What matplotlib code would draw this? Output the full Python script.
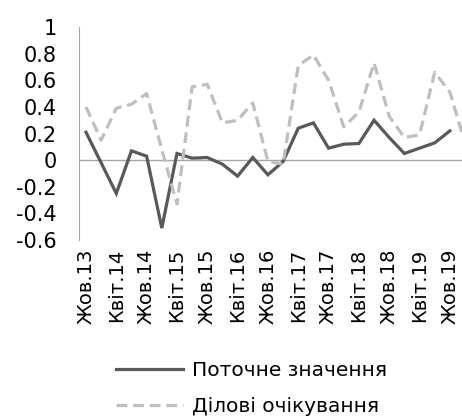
import numpy as np
import matplotlib
matplotlib.use("Agg")
import matplotlib.pyplot as plt

plt.rcParams["font.family"] = ["DejaVu Sans"]

# quarterly data, Oct 2013 .. Oct 2019 (+ one more quarter for expectations)
current = [0.21, -0.02, -0.25, 0.07, 0.03, -0.51, 0.05, 0.015, 0.02, -0.03,
           -0.12, 0.02, -0.11, -0.01, 0.24, 0.28, 0.09, 0.12, 0.125, 0.30,
           0.17, 0.05, 0.09, 0.13, 0.22]
expect = [0.40, 0.15, 0.39, 0.42, 0.50, 0.08, -0.33, 0.55, 0.57, 0.28,
          0.30, 0.43, -0.01, -0.03, 0.71, 0.79, 0.60, 0.25, 0.36, 0.73,
          0.33, 0.17, 0.19, 0.66, 0.51, 0.13]
tick_labels = ["Жов.13", "Квіт.14", "Жов.14", "Квіт.15", "Жов.15", "Квіт.16",
               "Жов.16", "Квіт.17", "Жов.17", "Квіт.18", "Жов.18", "Квіт.19",
               "Жов.19"]
yticks = [-0.6, -0.4, -0.2, 0, 0.2, 0.4, 0.6, 0.8, 1]

fig = plt.figure(figsize=(4.62, 4.19), dpi=100)
ax = fig.add_axes([0.171, 0.427, 0.829, 0.5086])

ax.plot(np.arange(len(current)), current, color="#595959", lw=2.3,
        solid_joinstyle="miter", label="Поточне значення")
ax.plot(np.arange(len(expect)), expect, color="#bfbfbf", lw=2.3,
        dashes=(3.4, 1.8), label="Ділові очікування")
ax.axhline(0, color="#a6a6a6", lw=1.0, zorder=0)

ax.set_xlim(-0.46, 24.8)
ax.set_ylim(-0.6, 1)
ax.set_yticks(yticks)
ax.set_yticklabels([f"{v:g}" for v in yticks], fontsize=15)
ax.set_xticks(np.arange(0, 25, 2))
ax.set_xticklabels(tick_labels, rotation=90, fontsize=14)
ax.tick_params(length=0, pad=6)
ax.tick_params(axis="y", pad=16)

for s in ["top", "right", "bottom"]:
    ax.spines[s].set_visible(False)
ax.spines["left"].set_color("#a6a6a6")

fig.legend(loc="center", bbox_to_anchor=(0.545, 0.073), ncol=1, frameon=False,
           fontsize=14.5, handlelength=3.3, handletextpad=0.45,
           labelspacing=0.85)

fig.savefig("out.png", dpi=100)
